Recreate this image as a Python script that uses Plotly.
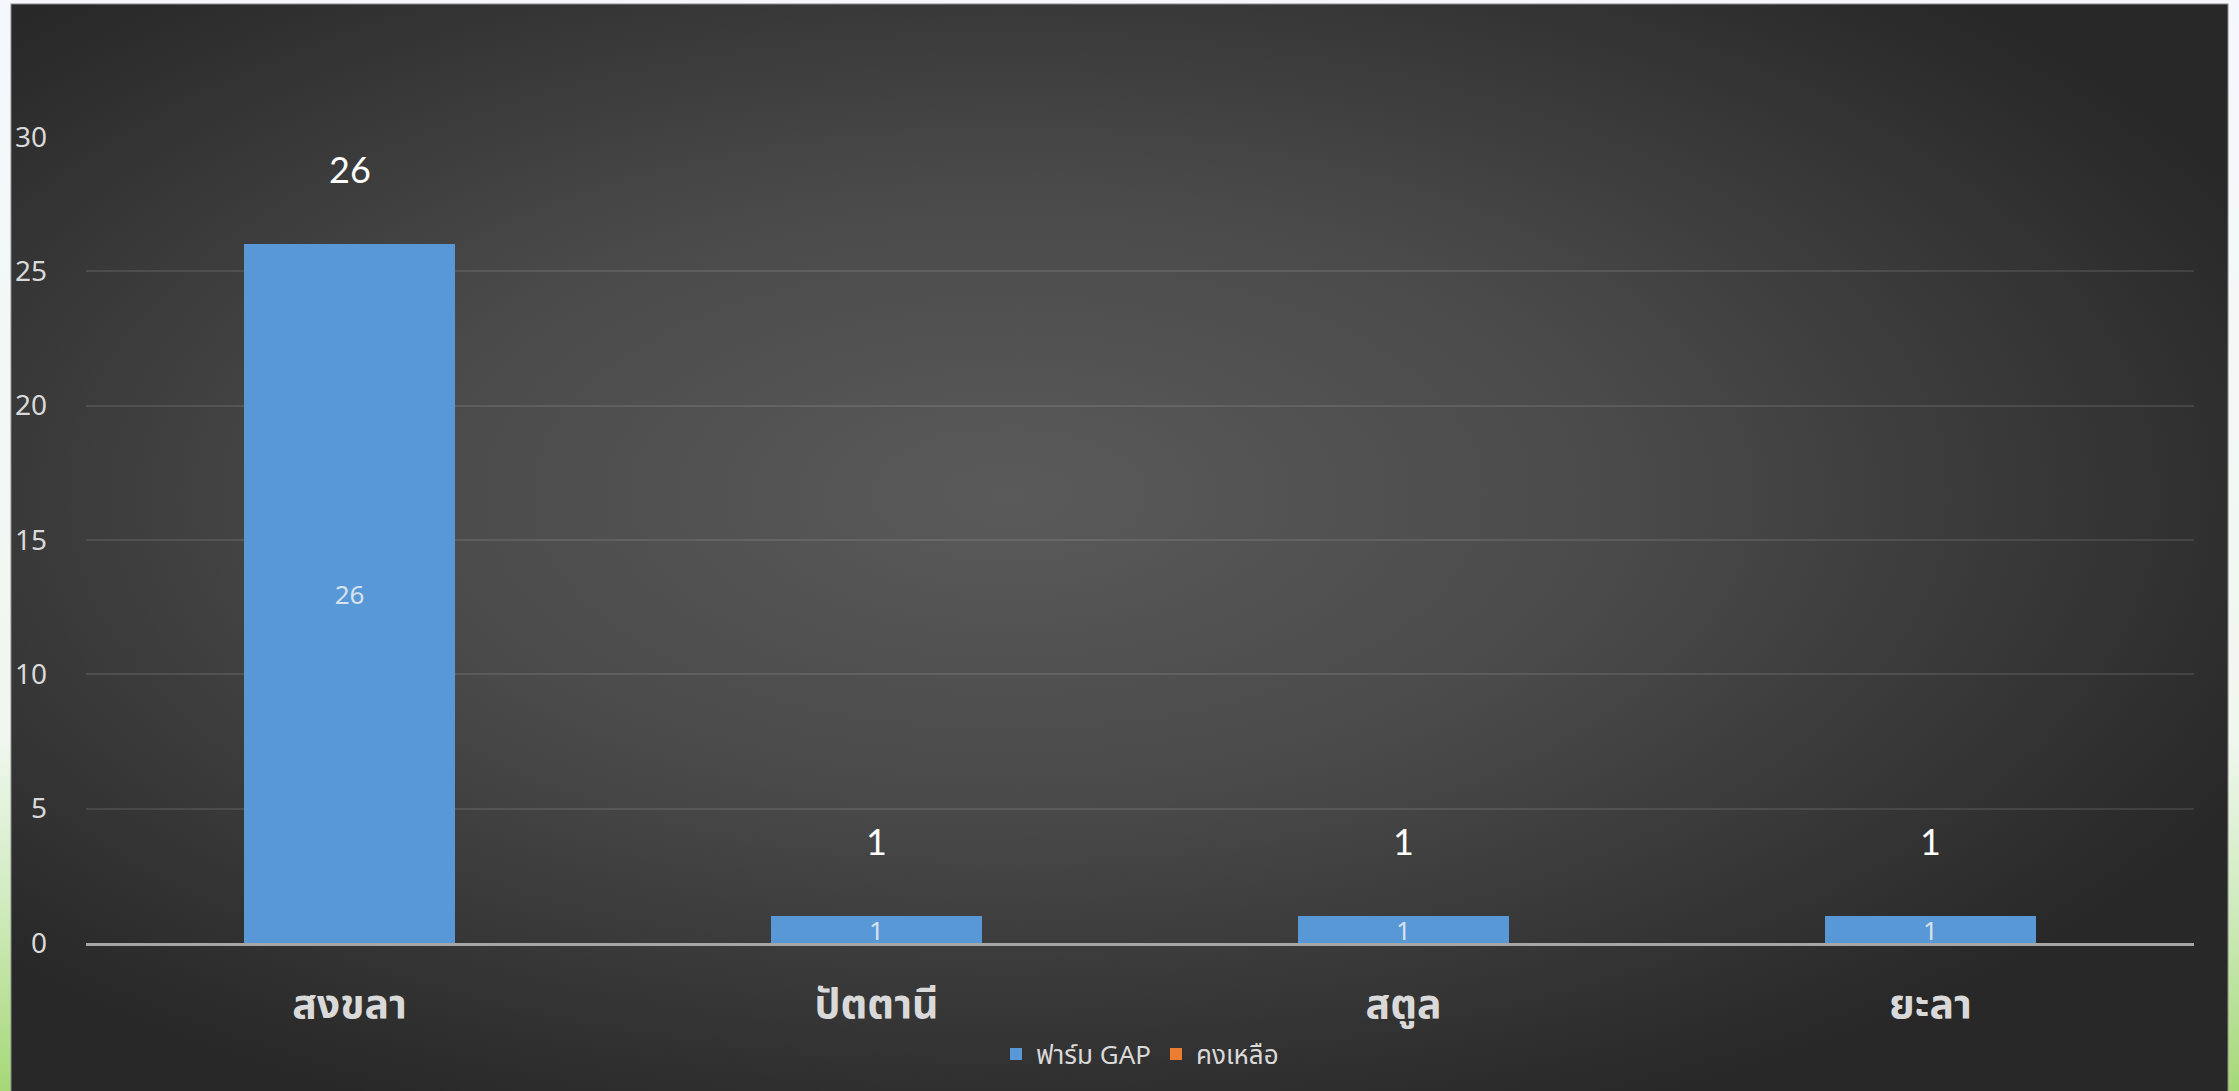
import plotly.graph_objects as go
import urllib.parse

categories = ["สงขลา", "ปัตตานี", "สตูล", "ยะลา"]
farm_gap = [26, 1, 1, 1]
remaining = [0, 0, 0, 0]
series_names = ["ฟาร์ม GAP", "คงเหลือ"]
y_ticks = [0, 5, 10, 15, 20, 25, 30]

W, H = 2239, 1091
ML, MR, MT, MB = 86, 45, 137, 148
PW, PH = W - ML - MR, H - MT - MB

svg = f'''<svg xmlns="http://www.w3.org/2000/svg" width="{W}" height="{H}" viewBox="0 0 {W} {H}" preserveAspectRatio="none">
<defs>
<linearGradient id="pg" x1="0" y1="0" x2="0" y2="1">
<stop offset="0" stop-color="#f4f8fd"/>
<stop offset="0.68" stop-color="#f0f7ee"/>
<stop offset="0.82" stop-color="#d2ecc2"/>
<stop offset="1" stop-color="#a6d877"/>
</linearGradient>
<radialGradient id="rg" cx="0.45" cy="0.45" r="0.62" gradientUnits="objectBoundingBox">
<stop offset="0" stop-color="#5a5a5a"/>
<stop offset="0.45" stop-color="#4a4a4a"/>
<stop offset="1" stop-color="#282828"/>
</radialGradient>
<linearGradient id="bg" x1="0" y1="0" x2="0" y2="1">
<stop offset="0" stop-color="#6fa6dd"/>
<stop offset="1" stop-color="#4087cb"/>
</linearGradient>
</defs>
<rect x="0" y="0" width="{W}" height="{H}" fill="url(#pg)"/>
<rect x="11" y="4" width="2217" height="1092" fill="url(#rg)" stroke="#8a8a8a" stroke-width="1"/>
</svg>'''
src = "data:image/svg+xml;charset=utf-8," + urllib.parse.quote(svg)

FONT = "Noto Sans, Noto Sans Thai, Tahoma, sans-serif"

fig = go.Figure()
fig.add_trace(go.Bar(
    x=categories, y=farm_gap, name=series_names[0],
    marker=dict(color="#5898d6", line=dict(width=0)),
    text=[str(v) for v in farm_gap], textposition="inside", textangle=0,
    insidetextanchor="middle", constraintext="none",
    textfont=dict(color="#d6e2ee", size=26, family=FONT),
))
fig.add_trace(go.Bar(
    x=categories, y=remaining, name=series_names[1],
    marker=dict(color="#ed7d31", line=dict(width=0)),
))

# big white value labels above bars
for c, v in zip(categories, farm_gap):
    fig.add_annotation(x=c, y=max(v + 2.8, 3.5), text=str(v), showarrow=False,
                       font=dict(color="#ffffff", size=36, family="Lato, sans-serif"),
                       xref="x", yref="y")

fig.update_layout(
    width=W, height=H,
    margin=dict(l=ML, r=MR, t=MT, b=MB, autoexpand=False),
    paper_bgcolor="rgba(0,0,0,0)", plot_bgcolor="rgba(0,0,0,0)",
    barmode="stack", bargap=0.6,
    uniformtext=dict(minsize=26, mode="show"),
    showlegend=True,
    legend=dict(orientation="h", x=0.5, xanchor="center", y=-(1054 - (H - MB)) / PH,
                yanchor="middle", traceorder="normal",
                font=dict(color="#d9d9d9", size=26, family=FONT),
                bgcolor="rgba(0,0,0,0)", itemwidth=30),
    images=[dict(source=src, xref="paper", yref="paper",
                 x=-ML / PW, y=1 + MT / PH, sizex=W / PW, sizey=H / PH,
                 xanchor="left", yanchor="top", sizing="stretch", layer="below")],
    font=dict(family=FONT),
)
fig.update_xaxes(showgrid=False, showline=True, linecolor="#a6a6a6", linewidth=3,
                 tickfont=dict(color="#d9d9d9", size=41, family=FONT, weight="bold"),
                 ticks="", ticklabelstandoff=23, zeroline=False, automargin=False)
fig.update_yaxes(range=[0, 30], tickvals=y_ticks, showgrid=True,
                 gridcolor="rgba(255,255,255,0.10)", gridwidth=2,
                 zeroline=False, showline=False, automargin=False,
                 tickfont=dict(color="#d9d9d9", size=28, family=FONT),
                 ticklabelstandoff=38)

fig.write_html("out.html", config={"displayModeBar": False},
               post_script="document.body.style.margin='0';document.body.style.overflow='hidden';")
